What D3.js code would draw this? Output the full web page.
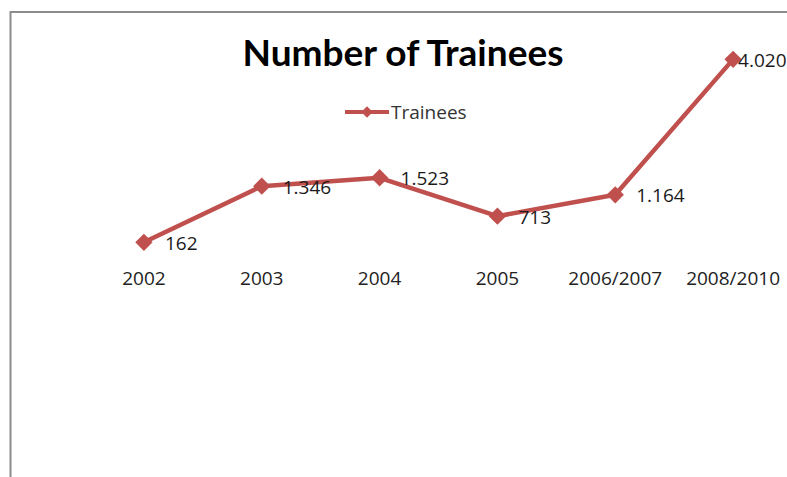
<!DOCTYPE html>
<html>
<head>
<meta charset="utf-8">
<script src="https://cdn.jsdelivr.net/npm/d3@7"></script>
<style>
  body { margin: 0; background: #fff; }
  svg { display: block; }
</style>
</head>
<body>
<div id="chart"></div>
<script>
// Chart data
const categories = ['2002', '2003', '2004', '2005', '2006/2007', '2008/2010'];
const trainees = [162, 1346, 1523, 713, 1164, 4020];
const labels = ['162', '1.346', '1.523', '713', '1.164', '4.020'];

const width = 787, height = 477;
const red = '#c0504d';

const svg = d3.select('#chart')
    .append('svg')
    .attr('width', width)
    .attr('height', height);

svg.append('rect').attr('width', width).attr('height', height).attr('fill', '#fff');

// Chart frame (top and left edges visible)
svg.append('path')
    .attr('d', `M10.5,${height} V12 H${width}`)
    .attr('fill', 'none')
    .attr('stroke', '#8c8c8c')
    .attr('stroke-width', 2);

// Scales
const x = d3.scaleBand().domain(categories).range([85, 792]).padding(0);
const y = d3.scaleLinear().domain([0, 4500]).range([250, 36.6]);
const cx = d => x(d) + x.bandwidth() / 2;

// Title
svg.append('text')
    .attr('x', 403)
    .attr('y', 66)
    .attr('text-anchor', 'middle')
    .style('font-family', 'Lato, "Open Sans", sans-serif')
    .style('font-weight', 'bold')
    .style('font-size', '37px')
    .attr('fill', '#000')
    .text('Number of Trainees');

// Legend
const legend = svg.append('g').attr('transform', 'translate(345,112)');
legend.append('line')
    .attr('x1', 0).attr('x2', 44)
    .attr('stroke', red).attr('stroke-width', 4);
legend.append('path')
    .attr('transform', 'translate(22,0) rotate(45)')
    .attr('d', d3.symbol().type(d3.symbolSquare).size(64)())
    .attr('fill', red);
legend.append('text')
    .attr('x', 46).attr('y', 6.5)
    .style('font-family', '"Open Sans", sans-serif')
    .style('font-size', '19px')
    .attr('fill', '#333')
    .text('Trainees');

// X axis labels (no axis line)
const xAxis = svg.append('g')
    .attr('transform', 'translate(0,266)')
    .call(d3.axisBottom(x).tickSize(0).tickPadding(0));
xAxis.select('.domain').remove();
xAxis.selectAll('text')
    .attr('dy', '0')
    .attr('y', 19)
    .style('font-family', '"Open Sans", sans-serif')
    .style('font-size', '19px')
    .attr('fill', '#222');

// Line
const line = d3.line()
    .x((d, i) => cx(categories[i]))
    .y(d => y(d));

svg.append('path')
    .datum(trainees)
    .attr('d', line)
    .attr('fill', 'none')
    .attr('stroke', red)
    .attr('stroke-width', 4.5)
    .attr('stroke-linejoin', 'round');

// Markers
svg.selectAll('.marker')
    .data(trainees)
    .enter()
    .append('path')
    .attr('class', 'marker')
    .attr('transform', (d, i) => `translate(${cx(categories[i])},${y(d)}) rotate(45)`)
    .attr('d', d3.symbol().type(d3.symbolSquare).size(150)())
    .attr('fill', red);

// Data labels
svg.selectAll('.dlabel')
    .data(trainees)
    .enter()
    .append('text')
    .attr('class', 'dlabel')
    .attr('x', (d, i) => cx(categories[i]) + (i === trainees.length - 1 ? 5 : 21))
    .attr('y', d => y(d) + 7.5)
    .style('font-family', '"Open Sans", sans-serif')
    .style('font-size', '19px')
    .attr('fill', '#1a1a1a')
    .text((d, i) => labels[i]);
</script>
</body>
</html>
